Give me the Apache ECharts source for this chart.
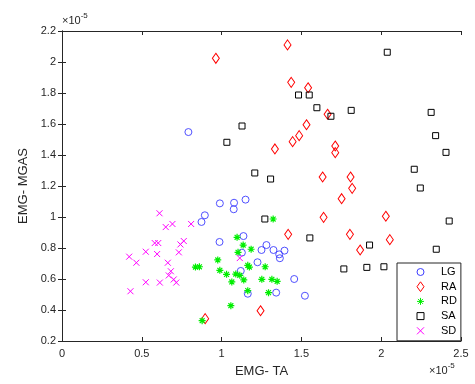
<!DOCTYPE html>
<html>
<head>
<meta charset="utf-8">
<script src="https://cdn.jsdelivr.net/npm/echarts@6/dist/echarts.min.js"></script>
<style>
  html, body { margin: 0; padding: 0; background: #fff; }
  #chart { width: 475px; height: 384px; }
</style>
</head>
<body>
<div id="chart"></div>
<script>
// values in units of 1e-5
const seriesNames = ['LG', 'RA', 'RD', 'SA', 'SD'];

const lgPoints = [
  [0.792, 1.548], [0.989, 1.088], [1.078, 1.092], [1.076, 1.050], [1.150, 1.112],
  [0.895, 1.011], [0.874, 0.968], [1.137, 0.877], [0.987, 0.839], [1.281, 0.819],
  [1.250, 0.787], [1.325, 0.787], [1.394, 0.783], [1.361, 0.759], [1.365, 0.734],
  [1.127, 0.770], [1.225, 0.708], [1.120, 0.652], [1.455, 0.600], [1.164, 0.505],
  [1.342, 0.512], [1.522, 0.492]
];

const raPoints = [
  [0.964, 2.024], [1.413, 2.110], [1.436, 1.869], [1.542, 1.834], [1.664, 1.663],
  [1.532, 1.595], [1.486, 1.525], [1.445, 1.486], [1.712, 1.458], [1.712, 1.415],
  [1.334, 1.439], [1.633, 1.258], [1.808, 1.258], [1.818, 1.185], [1.752, 1.118],
  [1.639, 0.998], [2.029, 1.005], [1.417, 0.888], [1.804, 0.888], [2.054, 0.854],
  [1.868, 0.787], [1.244, 0.395], [0.897, 0.344]
];

const rdPoints = [
  [1.323, 0.987], [1.097, 0.869], [1.135, 0.819], [1.185, 0.792], [1.103, 0.772],
  [0.976, 0.723], [0.836, 0.677], [0.861, 0.679], [1.164, 0.688], [1.174, 0.677],
  [1.273, 0.679], [0.989, 0.656], [1.031, 0.630], [1.089, 0.632], [1.114, 0.624],
  [1.139, 0.594], [1.064, 0.581], [1.252, 0.598], [1.315, 0.598], [1.348, 0.585],
  [1.164, 0.525], [1.294, 0.512], [1.058, 0.428], [0.878, 0.331]
];

const saPoints = [
  [1.128, 1.587], [1.033, 1.482], [1.208, 1.284], [2.038, 2.063], [1.482, 1.787],
  [1.549, 1.787], [1.597, 1.705], [1.812, 1.688], [2.313, 1.675], [1.685, 1.650],
  [2.341, 1.525], [2.406, 1.417], [2.207, 1.308], [1.307, 1.245], [2.245, 1.187],
  [2.426, 0.974], [1.271, 0.987], [1.553, 0.865], [1.927, 0.819], [2.345, 0.792],
  [1.766, 0.665], [1.910, 0.675], [2.017, 0.679]
];

const sdPoints = [
  [0.611, 1.024], [0.650, 0.935], [0.692, 0.955], [0.809, 0.955], [0.763, 0.845],
  [0.742, 0.823], [0.581, 0.832], [0.603, 0.832], [0.525, 0.776], [0.732, 0.772],
  [0.596, 0.761], [0.421, 0.744], [0.466, 0.705], [0.663, 0.705], [0.682, 0.650],
  [0.669, 0.623], [0.700, 0.597], [0.716, 0.577], [0.525, 0.579], [0.613, 0.577],
  [0.429, 0.521], [1.114, 0.735]
];

const font = 'Liberation Sans, Arial, Helvetica, sans-serif';
const ink = '#262626';

const chart = echarts.init(document.getElementById('chart'));

// matlab-like marker shapes
const diamondPath = 'path://M5,0L10,7L5,14L0,7Z';
const starPath = 'path://M0,5L10,5M5,0L5,10M1.5,1.5L8.5,8.5M1.5,8.5L8.5,1.5';
const crossPath = 'path://M0,0L10,10M0,10L10,0';
const squarePath = 'path://M0,0L10,0L10,10L0,10Z';

function hollow(color, width) {
  return { color: 'rgba(0,0,0,0)', borderColor: color, borderWidth: width || 1, opacity: 1 };
}

const fmt = v => String(+v.toFixed(1));

const baseX = {
  type: 'value', min: 0, max: 2.5, interval: 0.5,
  axisLine: { show: true, lineStyle: { color: ink, width: 1 } },
  axisTick: { show: true, inside: true, length: 4, lineStyle: { color: ink } },
  splitLine: { show: false }
};
const baseY = {
  type: 'value', min: 0.2, max: 2.2, interval: 0.2,
  axisLine: { show: true, lineStyle: { color: ink, width: 1 } },
  axisTick: { show: true, inside: true, length: 4, lineStyle: { color: ink } },
  splitLine: { show: false }
};

const superscript = {
  a: { fontSize: 11, fontFamily: font, fill: ink, padding: [6, 0, 0, 0] },
  b: { fontSize: 8, fontFamily: font, fill: ink, padding: [0, 0, 4, 0] }
};

const option = {
  backgroundColor: '#fff',
  animation: false,
  grid: { left: 62, right: 14, top: 31, bottom: 43 },
  xAxis: [
    Object.assign({}, baseX, {
      position: 'bottom',
      name: 'EMG- TA', nameLocation: 'middle', nameGap: 24,
      nameTextStyle: { color: ink, fontSize: 13, fontFamily: font },
      axisLabel: { color: ink, fontSize: 11, fontFamily: font, margin: 7, formatter: fmt }
    }),
    Object.assign({}, baseX, { position: 'top', axisLabel: { show: false } })
  ],
  yAxis: [
    Object.assign({}, baseY, {
      position: 'left',
      name: 'EMG- MGAS', nameLocation: 'middle', nameGap: 28,
      nameTextStyle: { color: ink, fontSize: 13, fontFamily: font },
      axisLabel: { color: ink, fontSize: 11, fontFamily: font, margin: 6, formatter: fmt }
    }),
    Object.assign({}, baseY, { position: 'right', axisLabel: { show: false } })
  ],
  legend: {
    orient: 'vertical',
    left: 397, top: 263,
    padding: [2, 4, 3, 19.5],
    itemWidth: 7, itemHeight: 10, itemGap: 0.7,
    itemStyle: { borderWidth: 1 },
    backgroundColor: '#fff',
    borderColor: ink, borderWidth: 1, borderRadius: 0,
    textStyle: { color: '#000', fontSize: 11, fontFamily: font, lineHeight: 14, padding: [0, 0, 0, 12] },
    data: seriesNames
  },
  graphic: [
    { type: 'text', left: 62, top: 12, style: { text: '{a|×10}{b|-5}', rich: superscript } },
    { type: 'text', left: 429, top: 362, style: { text: '{a|×10}{b|-5}', rich: superscript } }
  ],
  series: [
    { name: 'LG', type: 'scatter', data: lgPoints, symbol: 'circle', symbolSize: 7, itemStyle: hollow('#3d3dff', 0.9) },
    { name: 'RA', type: 'scatter', data: raPoints, symbol: diamondPath, symbolSize: [7, 10], itemStyle: hollow('#ff0000', 1) },
    { name: 'RD', type: 'scatter', data: rdPoints, symbol: starPath, symbolSize: 7, itemStyle: hollow('#00ee00', 1.2) },
    { name: 'SA', type: 'scatter', data: saPoints, symbol: squarePath, symbolSize: 6, itemStyle: hollow('#000000', 1) },
    { name: 'SD', type: 'scatter', data: sdPoints, symbol: crossPath, symbolSize: 6, itemStyle: hollow('#ff00ff', 1) }
  ]
};

chart.setOption(option);
</script>
</body>
</html>
